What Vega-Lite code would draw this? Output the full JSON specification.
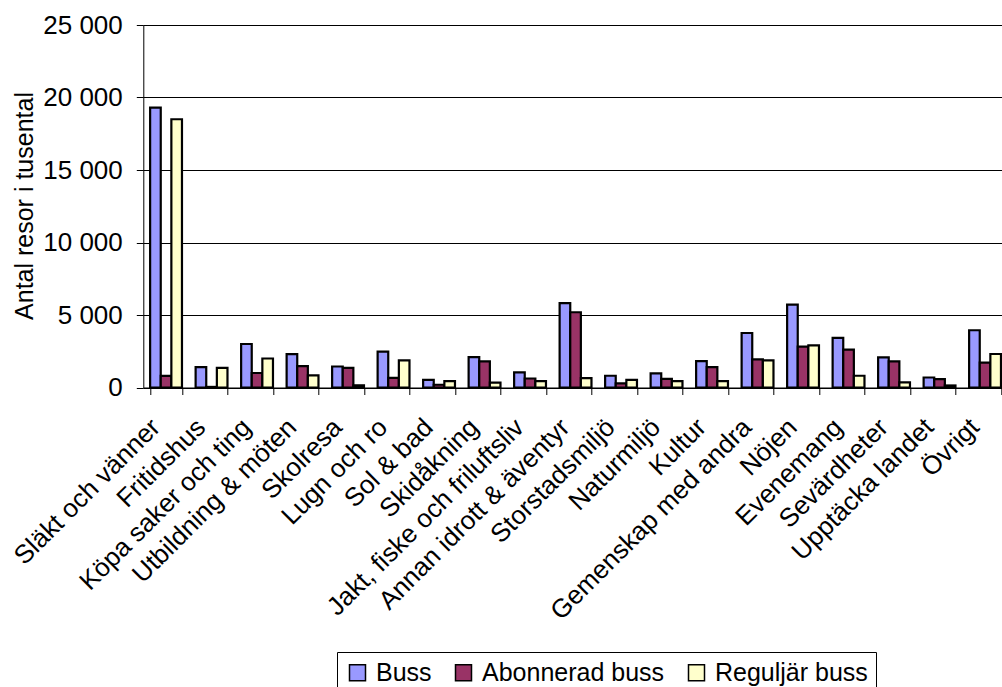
{
  "$schema": "https://vega.github.io/schema/vega-lite/v6.json",
  "autosize": {"type": "none"},
  "padding": {"left": 143.3, "top": 25, "right": 0, "bottom": 299.5},
  "width": 858.7,
  "height": 362.5,
  "background": "white",
  "config": {
    "font": "Liberation Sans",
    "view": {"stroke": null},
    "axis": {"labelColor": "black", "titleColor": "black", "domainColor": "black", "tickColor": "black"}
  },
  "data": {
    "values": [
      {"Kategori": "Släkt och vänner", "Serie": "Buss", "Varde": 19300},
      {"Kategori": "Släkt och vänner", "Serie": "Abonnerad buss", "Varde": 800},
      {"Kategori": "Släkt och vänner", "Serie": "Reguljär buss", "Varde": 18500},
      {"Kategori": "Fritidshus", "Serie": "Buss", "Varde": 1400},
      {"Kategori": "Fritidshus", "Serie": "Abonnerad buss", "Varde": 40},
      {"Kategori": "Fritidshus", "Serie": "Reguljär buss", "Varde": 1350},
      {"Kategori": "Köpa saker och ting", "Serie": "Buss", "Varde": 3000},
      {"Kategori": "Köpa saker och ting", "Serie": "Abonnerad buss", "Varde": 1000},
      {"Kategori": "Köpa saker och ting", "Serie": "Reguljär buss", "Varde": 2000},
      {"Kategori": "Utbildning & möten", "Serie": "Buss", "Varde": 2300},
      {"Kategori": "Utbildning & möten", "Serie": "Abonnerad buss", "Varde": 1480},
      {"Kategori": "Utbildning & möten", "Serie": "Reguljär buss", "Varde": 830},
      {"Kategori": "Skolresa", "Serie": "Buss", "Varde": 1450},
      {"Kategori": "Skolresa", "Serie": "Abonnerad buss", "Varde": 1360},
      {"Kategori": "Skolresa", "Serie": "Reguljär buss", "Varde": 150},
      {"Kategori": "Lugn och ro", "Serie": "Buss", "Varde": 2480},
      {"Kategori": "Lugn och ro", "Serie": "Abonnerad buss", "Varde": 670},
      {"Kategori": "Lugn och ro", "Serie": "Reguljär buss", "Varde": 1870},
      {"Kategori": "Sol & bad", "Serie": "Buss", "Varde": 530},
      {"Kategori": "Sol & bad", "Serie": "Abonnerad buss", "Varde": 190},
      {"Kategori": "Sol & bad", "Serie": "Reguljär buss", "Varde": 440},
      {"Kategori": "Skidåkning", "Serie": "Buss", "Varde": 2100},
      {"Kategori": "Skidåkning", "Serie": "Abonnerad buss", "Varde": 1800},
      {"Kategori": "Skidåkning", "Serie": "Reguljär buss", "Varde": 330},
      {"Kategori": "Jakt, fiske och friluftsliv", "Serie": "Buss", "Varde": 1040},
      {"Kategori": "Jakt, fiske och friluftsliv", "Serie": "Abonnerad buss", "Varde": 620},
      {"Kategori": "Jakt, fiske och friluftsliv", "Serie": "Reguljär buss", "Varde": 440},
      {"Kategori": "Annan idrott & äventyr", "Serie": "Buss", "Varde": 5820},
      {"Kategori": "Annan idrott & äventyr", "Serie": "Abonnerad buss", "Varde": 5190},
      {"Kategori": "Annan idrott & äventyr", "Serie": "Reguljär buss", "Varde": 650},
      {"Kategori": "Storstadsmiljö", "Serie": "Buss", "Varde": 810},
      {"Kategori": "Storstadsmiljö", "Serie": "Abonnerad buss", "Varde": 280},
      {"Kategori": "Storstadsmiljö", "Serie": "Reguljär buss", "Varde": 530},
      {"Kategori": "Naturmiljö", "Serie": "Buss", "Varde": 970},
      {"Kategori": "Naturmiljö", "Serie": "Abonnerad buss", "Varde": 600},
      {"Kategori": "Naturmiljö", "Serie": "Reguljär buss", "Varde": 440},
      {"Kategori": "Kultur", "Serie": "Buss", "Varde": 1820},
      {"Kategori": "Kultur", "Serie": "Abonnerad buss", "Varde": 1410},
      {"Kategori": "Kultur", "Serie": "Reguljär buss", "Varde": 440},
      {"Kategori": "Gemenskap med andra", "Serie": "Buss", "Varde": 3760},
      {"Kategori": "Gemenskap med andra", "Serie": "Abonnerad buss", "Varde": 1940},
      {"Kategori": "Gemenskap med andra", "Serie": "Reguljär buss", "Varde": 1870},
      {"Kategori": "Nöjen", "Serie": "Buss", "Varde": 5720},
      {"Kategori": "Nöjen", "Serie": "Abonnerad buss", "Varde": 2820},
      {"Kategori": "Nöjen", "Serie": "Reguljär buss", "Varde": 2910},
      {"Kategori": "Evenemang", "Serie": "Buss", "Varde": 3420},
      {"Kategori": "Evenemang", "Serie": "Abonnerad buss", "Varde": 2610},
      {"Kategori": "Evenemang", "Serie": "Reguljär buss", "Varde": 810},
      {"Kategori": "Sevärdheter", "Serie": "Buss", "Varde": 2080},
      {"Kategori": "Sevärdheter", "Serie": "Abonnerad buss", "Varde": 1800},
      {"Kategori": "Sevärdheter", "Serie": "Reguljär buss", "Varde": 350},
      {"Kategori": "Upptäcka landet", "Serie": "Buss", "Varde": 690},
      {"Kategori": "Upptäcka landet", "Serie": "Abonnerad buss", "Varde": 580},
      {"Kategori": "Upptäcka landet", "Serie": "Reguljär buss", "Varde": 140},
      {"Kategori": "Övrigt", "Serie": "Buss", "Varde": 3950},
      {"Kategori": "Övrigt", "Serie": "Abonnerad buss", "Varde": 1710},
      {"Kategori": "Övrigt", "Serie": "Reguljär buss", "Varde": 2310}
    ]
  },
  "mark": {"type": "bar", "stroke": "black", "strokeWidth": 2.2},
  "encoding": {
    "x": {
      "field": "Kategori",
      "type": "nominal",
      "sort": null,
      "scale": {"paddingInner": 0.3, "paddingOuter": 0.15, "range": [0, 864.5]},
      "axis": {
        "title": null,
        "labelAngle": -45,
        "labelAlign": "right",
        "labelBaseline": "alphabetic",
        "labelPadding": 34,
        "labelOffset": -5,
        "labelFontSize": 26,
        "labelLimit": 400,
        "labelOverlap": false,
        "labelFlush": false,
        "tickBand": "extent",
        "tickSize": 7,
        "grid": false
      }
    },
    "xOffset": {
      "field": "Serie",
      "type": "nominal",
      "sort": ["Buss", "Abonnerad buss", "Reguljär buss"],
      "scale": {"paddingInner": 0, "paddingOuter": 0}
    },
    "y": {
      "field": "Varde",
      "type": "quantitative",
      "scale": {"domain": [0, 25000], "nice": false},
      "axis": {
        "values": [0, 5000, 10000, 15000, 20000, 25000],
        "labelExpr": "replace(format(datum.value, ','), ',', ' ')",
        "labelFontSize": 26,
        "labelPadding": 14,
        "tickSize": 7,
        "grid": true,
        "gridColor": "black",
        "gridWidth": 1,
        "title": "Antal resor i tusental",
        "titleFontSize": 25,
        "titleFontWeight": "normal",
        "titleAngle": 270,
        "titleAlign": "center",
        "titleBaseline": "alphabetic",
        "titleX": -111,
        "titleY": 180.5
      }
    },
    "color": {
      "field": "Serie",
      "type": "nominal",
      "scale": {"domain": ["Buss", "Abonnerad buss", "Reguljär buss"], "range": ["#9999FF", "#993366", "#FFFFCC"]},
      "legend": {
        "title": null,
        "orient": "none",
        "direction": "horizontal",
        "legendX": 193.7,
        "legendY": 627,
        "symbolType": "square",
        "symbolSize": 256,
        "symbolStrokeColor": "black",
        "symbolStrokeWidth": 1.5,
        "symbolOpacity": 1,
        "labelFontSize": 25,
        "labelLimit": 400,
        "labelColor": "black",
        "labelOffset": 6,
        "columnPadding": 19,
        "padding": 8,
        "strokeColor": "black",
        "fillColor": "white",
        "cornerRadius": 0
      }
    }
  }
}
